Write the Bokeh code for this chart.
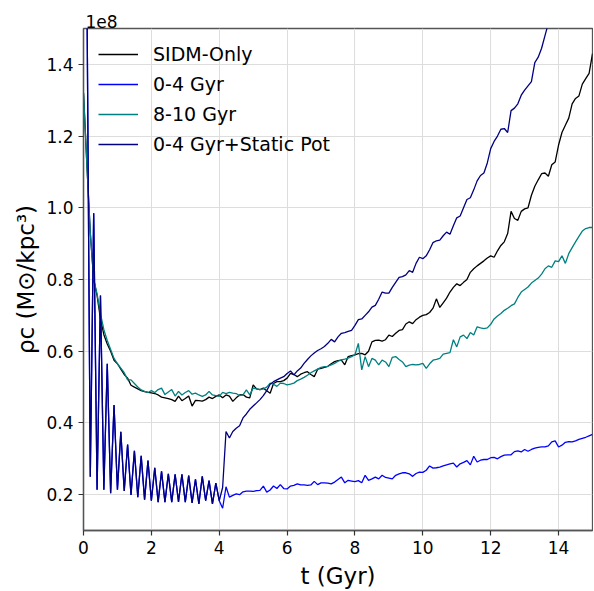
import numpy as np
from bokeh.plotting import figure
from bokeh.models import Range1d, FixedTicker, PrintfTickFormatter, Legend
from bokeh.embed import file_html
from bokeh.resources import INLINE

# ---------------- data (rho_c in units of 1e8 Msun/kpc^3), dt = 0.1 Gyr ----------------
x_ticks = [0, 2, 4, 6, 8, 10, 12, 14]
y_ticks = [0.2, 0.4, 0.6, 0.8, 1.0, 1.2, 1.4]

series_names = ["SIDM-Only", "0-4 Gyr", "8-10 Gyr", "0-4 Gyr+Static Pot"]

# shared by "0-4 Gyr" and "0-4 Gyr+Static Pot" for t = 0.0 ... 4.0
osc_0_4 = [
    1.55, 1.62, 0.25, 0.985, 0.214, 0.755, 0.214, 0.565, 0.204, 0.45,
    0.214, 0.375, 0.21, 0.34, 0.199, 0.322, 0.193, 0.308, 0.186, 0.295,
    0.183, 0.275, 0.179, 0.265, 0.179, 0.258, 0.179, 0.257, 0.18, 0.257,
    0.179, 0.253, 0.177, 0.243, 0.174, 0.251, 0.183, 0.239, 0.174, 0.232,
    0.183,
]

# "0-4 Gyr" for t = 4.1 ... 15.0
blue_after = [
    0.162, 0.222, 0.193, 0.198, 0.202, 0.200, 0.208, 0.210, 0.210,
    0.209, 0.211, 0.212, 0.224, 0.207, 0.213, 0.224, 0.217, 0.228, 0.217,
    0.216, 0.224, 0.226, 0.230, 0.227, 0.227, 0.226, 0.227, 0.237, 0.228,
    0.233, 0.233, 0.232, 0.230, 0.235, 0.242, 0.249, 0.233, 0.240, 0.238,
    0.236, 0.239, 0.233, 0.254, 0.240, 0.244, 0.249, 0.244, 0.254, 0.248,
    0.246, 0.244, 0.254, 0.258, 0.261, 0.261, 0.258, 0.251, 0.259, 0.263,
    0.262, 0.268, 0.280, 0.274, 0.275, 0.277, 0.280, 0.283, 0.286, 0.288,
    0.277, 0.286, 0.290, 0.295, 0.283, 0.307, 0.291, 0.296, 0.298, 0.298,
    0.303, 0.304, 0.300, 0.306, 0.310, 0.311, 0.311, 0.320, 0.322, 0.319,
    0.326, 0.321, 0.326, 0.330, 0.332, 0.333, 0.333, 0.336, 0.347, 0.350,
    0.333, 0.338, 0.346, 0.348, 0.347, 0.350, 0.354, 0.357, 0.360, 0.364,
    0.368,
]

# "0-4 Gyr+Static Pot" for t = 4.1 ... 13.8
static_after = [
    0.22, 0.376, 0.358, 0.376, 0.385, 0.392, 0.414, 0.425, 0.438,
    0.447, 0.456, 0.465, 0.476, 0.490, 0.508, 0.515, 0.520, 0.525, 0.529,
    0.538, 0.545, 0.534, 0.545, 0.553, 0.566, 0.577, 0.587, 0.595, 0.602,
    0.607, 0.613, 0.622, 0.633, 0.626, 0.640, 0.650, 0.652, 0.655, 0.658,
    0.672, 0.688, 0.690, 0.700, 0.710, 0.723, 0.728, 0.745, 0.765, 0.762,
    0.762, 0.778, 0.792, 0.806, 0.808, 0.813, 0.825, 0.820, 0.845, 0.862,
    0.858, 0.866, 0.883, 0.903, 0.908, 0.910, 0.922, 0.932, 0.926, 0.950,
    0.972, 0.977, 1.000, 1.023, 1.028, 1.050, 1.075, 1.090, 1.097, 1.125,
    1.165, 1.185, 1.200, 1.219, 1.221, 1.210, 1.271, 1.278, 1.290, 1.314,
    1.328, 1.340, 1.352, 1.405, 1.420, 1.445, 1.480, 1.515, 1.550,
]

# "SIDM-Only" for t = 0.0 ... 15.0
sidm_only = [
    1.32, 1.12, 0.93, 0.80, 0.755, 0.69, 0.646, 0.62, 0.60, 0.575,
    0.565, 0.55, 0.535, 0.525, 0.505, 0.50, 0.495, 0.49, 0.487, 0.485,
    0.484, 0.482, 0.478, 0.472, 0.47, 0.468, 0.465, 0.46, 0.475, 0.462,
    0.468, 0.475, 0.447, 0.463, 0.462, 0.461, 0.465, 0.472, 0.468, 0.474,
    0.478, 0.47, 0.478, 0.475, 0.46, 0.47, 0.478, 0.479, 0.472, 0.47,
    0.506, 0.495, 0.493, 0.497, 0.49, 0.483, 0.51, 0.515, 0.515, 0.518,
    0.525, 0.538, 0.535, 0.529, 0.536, 0.54, 0.543, 0.535, 0.529, 0.55,
    0.552, 0.555, 0.558, 0.565, 0.571, 0.574, 0.575, 0.562, 0.585, 0.588,
    0.59, 0.593, 0.594, 0.59, 0.60, 0.626, 0.63, 0.631, 0.628, 0.632,
    0.645, 0.641, 0.65, 0.658, 0.66, 0.676, 0.682, 0.677, 0.688, 0.695,
    0.70, 0.702, 0.708, 0.72, 0.746, 0.722, 0.735, 0.748, 0.765, 0.778,
    0.788, 0.783, 0.792, 0.80, 0.82, 0.83, 0.838, 0.845, 0.852, 0.86,
    0.866, 0.862, 0.88, 0.895, 0.905, 0.928, 0.99, 0.97, 0.965, 0.99,
    0.997, 1.0, 1.035, 1.06, 1.078, 1.095, 1.097, 1.088, 1.12, 1.128,
    1.175, 1.21, 1.23, 1.25, 1.29, 1.305, 1.312, 1.345, 1.36, 1.375,
    1.43,
]

# "8-10 Gyr" for t = 0.0 ... 15.0
gyr_8_10 = [
    1.32, 1.12, 0.93, 0.80, 0.76, 0.705, 0.66, 0.63, 0.605, 0.58,
    0.565, 0.553, 0.54, 0.52, 0.52, 0.51, 0.50, 0.492, 0.488, 0.485,
    0.49, 0.485, 0.493, 0.497, 0.479, 0.486, 0.493, 0.475, 0.488, 0.478,
    0.485, 0.49, 0.48, 0.483, 0.478, 0.474, 0.478, 0.488, 0.478, 0.476,
    0.474, 0.485, 0.482, 0.485, 0.483, 0.482, 0.476, 0.478, 0.492, 0.478,
    0.497, 0.495, 0.493, 0.495, 0.50, 0.511, 0.508, 0.502, 0.511, 0.51,
    0.506, 0.508, 0.511, 0.518, 0.522, 0.527, 0.533, 0.54, 0.545, 0.55,
    0.555, 0.557, 0.558, 0.562, 0.566, 0.572, 0.576, 0.578, 0.581, 0.585,
    0.59, 0.622, 0.548, 0.585, 0.557, 0.58, 0.575, 0.562, 0.575, 0.57,
    0.557, 0.583, 0.585, 0.577, 0.57, 0.557, 0.561, 0.563, 0.562, 0.563,
    0.566, 0.552, 0.565, 0.575, 0.577, 0.58, 0.592, 0.594, 0.596, 0.632,
    0.612, 0.64, 0.645, 0.635, 0.652, 0.645, 0.668, 0.665, 0.663, 0.665,
    0.675, 0.69, 0.698, 0.705, 0.714, 0.72, 0.727, 0.732, 0.75, 0.765,
    0.772, 0.779, 0.79, 0.797, 0.804, 0.815, 0.83, 0.838, 0.834, 0.852,
    0.85, 0.866, 0.845, 0.872, 0.889, 0.905, 0.92, 0.935, 0.942, 0.945,
    0.945,
]

dt = 0.1
blue_vals = osc_0_4 + blue_after
static_vals = osc_0_4 + static_after


def times(vals):
    return np.arange(len(vals)) * dt


FONT = "DejaVu Sans"

p = figure(width=593, height=591, x_range=Range1d(0, 15), y_range=Range1d(0.1, 1.5),
           output_backend="svg", toolbar_location=None,
           min_border_left=83, min_border_right=1, min_border_top=28, min_border_bottom=56,
           background_fill_color="white", border_fill_color="white")

# offset text "1e8" as the (left-aligned) title
p.title.text = "1e8"
p.title.align = "left"
p.title.offset = 2
p.title.text_font = FONT
p.title.text_font_size = "17px"
p.title.text_font_style = "normal"
p.title.text_color = "black"
p.title.standoff = 1

# axes / ticks
for ax in (p.xaxis[0], p.yaxis[0]):
    ax.major_label_text_font = FONT
    ax.major_label_text_font_size = "17px"
    ax.major_label_text_color = "black"
    ax.major_tick_out = 5
    ax.major_tick_in = 0
    ax.minor_tick_out = 0
    ax.minor_tick_in = 0
    ax.major_tick_line_color = "#333333"
    ax.major_tick_line_width = 1.2
    ax.axis_line_color = "#555555"
    ax.axis_line_width = 1.3
    ax.major_label_standoff = 5
    ax.axis_label_text_font = FONT
    ax.axis_label_text_font_size = "23px"
    ax.axis_label_text_font_style = "normal"
    ax.axis_label_text_color = "black"

p.xaxis.axis_label = "t (Gyr)"
p.xaxis.axis_label_standoff = 6
p.yaxis.axis_label = "ρc (M⊙/kpc³)"
p.yaxis.axis_label_standoff = 4

p.xaxis.ticker = FixedTicker(ticks=x_ticks)
p.yaxis.ticker = FixedTicker(ticks=y_ticks)
p.xaxis.formatter = PrintfTickFormatter(format="%d")
p.yaxis.formatter = PrintfTickFormatter(format="%.1f")
p.xgrid.ticker = FixedTicker(ticks=x_ticks)
p.ygrid.ticker = FixedTicker(ticks=y_ticks)
p.grid.grid_line_color = "#dddddd"
p.grid.grid_line_width = 1
p.outline_line_color = "#555555"
p.outline_line_width = 1.3

# lines
lw = 1.3
r_sidm = p.line(times(sidm_only), sidm_only, line_color="black", line_width=lw)
r_blue = p.line(times(blue_vals), blue_vals, line_color="#0000ff", line_width=lw)
r_teal = p.line(times(gyr_8_10), gyr_8_10, line_color="#008080", line_width=lw)
r_navy = p.line(times(static_vals), static_vals, line_color="#000080", line_width=lw)

legend = Legend(items=[(series_names[0], [r_sidm]), (series_names[1], [r_blue]),
                       (series_names[2], [r_teal]), (series_names[3], [r_navy])],
                location="top_left")
legend.label_text_font = FONT
legend.label_text_font_size = "19px"
legend.label_text_color = "black"
legend.glyph_width = 40
legend.glyph_height = 20
legend.label_height = 20
legend.label_standoff = 15
legend.spacing = 8
legend.padding = 15
legend.margin = 15
legend.border_line_color = None
legend.background_fill_alpha = 0
p.add_layout(legend)

open("out.html", "w").write(file_html(p, INLINE))
